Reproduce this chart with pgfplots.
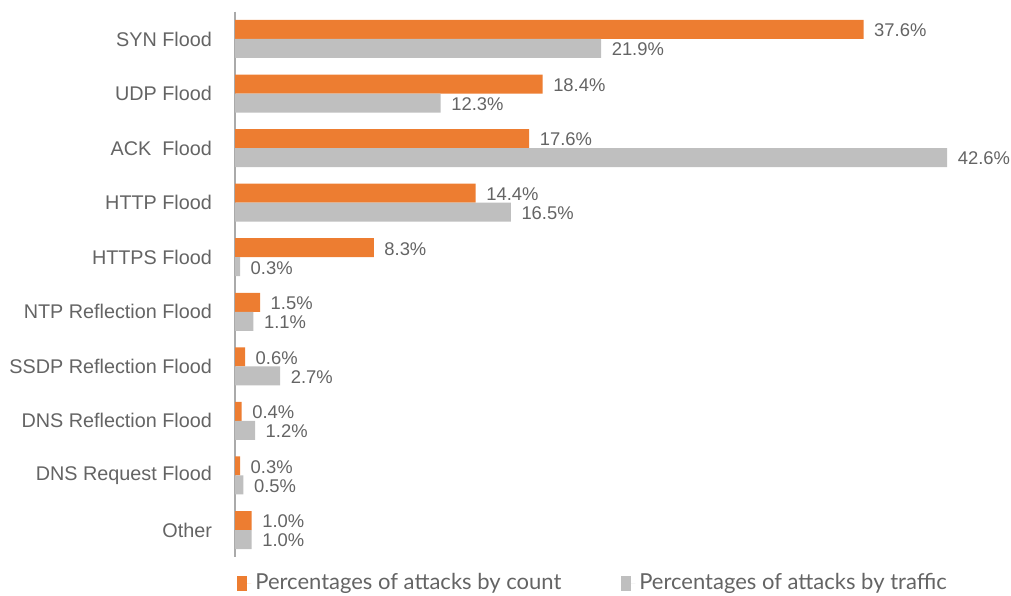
\documentclass[border=0pt]{standalone}
\usepackage{fontspec}
\setmainfont{Liberation Sans}
\newfontfamily\legfont{Lato}
\usepackage{pgfplots}
\usepackage{pgfplotstable}
\pgfplotsset{compat=1.18}
\definecolor{cOrange}{RGB}{237,125,49}
\definecolor{cGrey}{RGB}{191,191,191}
\definecolor{cText}{RGB}{100,100,100}
\definecolor{cAxis}{RGB}{170,170,170}
\pgfplotstableread{
idx count traffic
0 37.6 21.9
1 18.4 12.3
2 17.6 42.6
3 14.4 16.5
4 8.3 0.3
5 1.5 1.1
6 0.6 2.7
7 0.4 1.2
8 0.3 0.5
9 1.0 1.0
}\datatable
\begin{document}
\begin{tikzpicture}
\useasboundingbox (0,0) rectangle (505.5pt,-297.5pt);
\begin{axis}[
  at={(117.5pt,-5.85pt)}, anchor=north west,
  scale only axis, width=384.5pt, height=272.8pt,
  xbar, bar width=9.5pt,
  xmin=0, xmax=46, ymin=-0.5, ymax=9.5,
  y dir=reverse,
  axis x line=none,
  axis y line*=left,
  axis line style={cAxis, line width=0.8pt, -},
  ytick={0,...,9},
  yticklabels={SYN Flood, UDP Flood, ACK\ \ Flood, HTTP Flood, HTTPS Flood, NTP Reflection Flood, SSDP Reflection Flood, DNS Reflection Flood, DNS Request Flood, Other},
  major tick length=0pt,
  yticklabel style={font=\fontsize{9.9}{11}\selectfont, text=cText, xshift=-8pt},
  /pgf/number format/assume math mode=true,
  nodes near coords={\pgfmathprintnumber[fixed,precision=1,fixed zerofill,assume math mode=true]{\pgfplotspointmeta}\%},
  nodes near coords style={font=\fontsize{9.2}{11}\selectfont, text=cText, anchor=west, xshift=1.8pt, yshift=-0.5pt},
  point meta=explicit,
  legend style={at={(0,0)}, anchor=north west, xshift=-2pt, yshift=-4pt, draw=none, fill=none, font=\legfont\fontsize{11}{13}\selectfont, text=cText, legend columns=2, /tikz/every even column/.append style={column sep=28pt}},
  legend image code/.code={\fill[#1] (0pt,-4pt) rectangle (5pt,3.5pt); \path (0pt,0pt) -- (7pt,0pt);},
]
\addplot[fill=cOrange, draw=none, bar shift=4.75pt] table[x=count, y=idx, meta=count] {\datatable};
\addlegendentry{Percentages of attacks by count}
\addplot[fill=cGrey, draw=none, bar shift=-4.75pt] table[x=traffic, y=idx, meta=traffic] {\datatable};
\addlegendentry{Percentages of attacks by traffic}
\end{axis}
\end{tikzpicture}
\end{document}
